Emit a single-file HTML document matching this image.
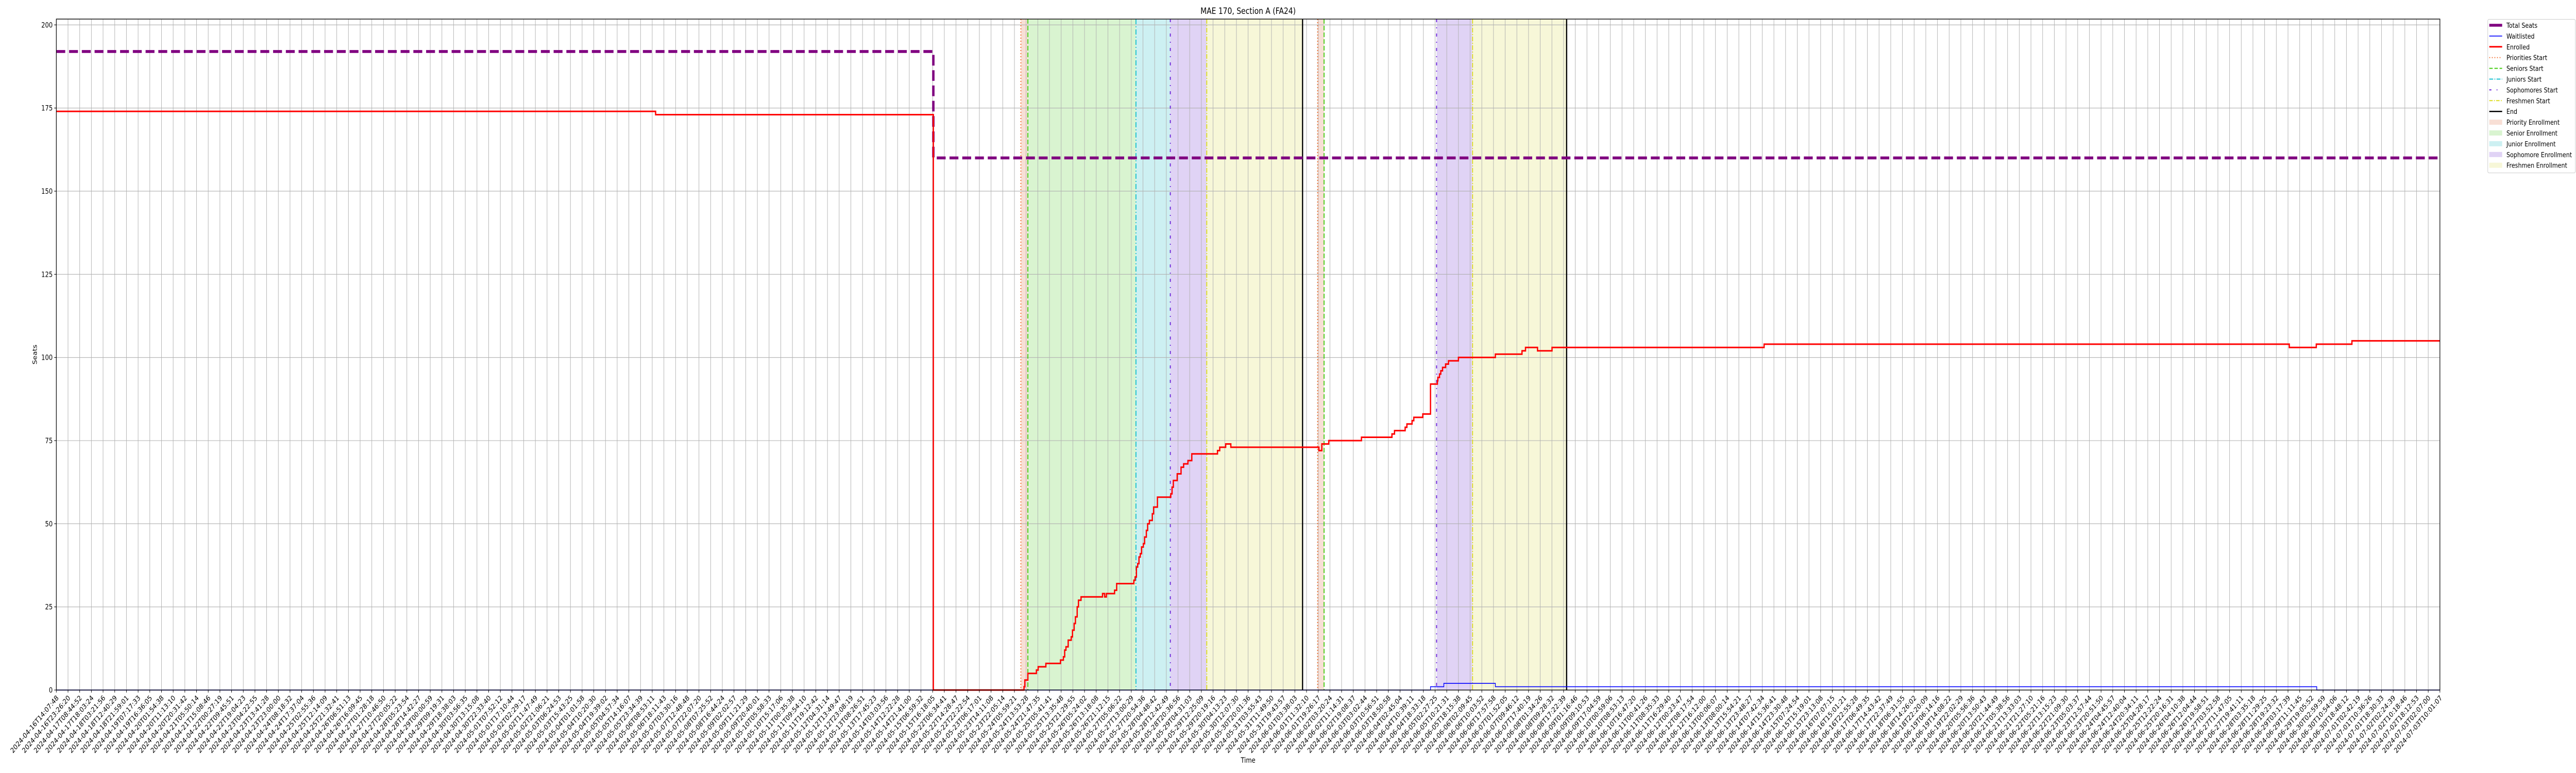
<!DOCTYPE html>
<html><head><meta charset="utf-8"><meta name="viewport" content="width=6000, initial-scale=1"><title>MAE 170, Section A (FA24)</title>
<style>html,body{margin:0;padding:0;background:#fff;width:100%;height:100%;overflow:hidden;}svg{display:block;position:fixed;left:0;top:0;width:100vw;height:100vh;font-family:"DejaVu Sans","Liberation Sans",sans-serif;}</style>
</head><body>
<svg id="chart" viewBox="0 0 6000 1500" preserveAspectRatio="none" xmlns="http://www.w3.org/2000/svg">
<rect width="6000" height="1500" fill="#fff"/>
<g id="spans"></g><g id="grid"></g><g id="vlines"></g><g id="series"></g><g id="axes"></g><g id="legend"></g>
</svg>
<script>
// ---- data (x in tick-position units, 0..204) ----
const enrolledT = [0,51.29,75.06,82.82,82.89,83.15,83.88,84.03,84.69,85.94,86.19,86.30,86.41,86.60,86.86,86.97,87.11,87.22,87.37,87.48,87.70,89.54,89.72,89.87,90.57,90.75,92.22,92.33,92.44,92.55,92.66,92.77,92.88,93.03,93.14,93.29,93.40,93.55,93.80,93.91,94.24,95.38,95.49,95.60,95.93,96.26,96.48,96.85,97.18,99.38,99.57,100.08,100.52,108.06,108.31,108.90,111.70,114.31,114.53,115.44,115.59,116.03,116.18,116.95,117.61,118.20,118.24,118.38,118.49,118.64,118.90,119.15,120.00,123.16,125.44,125.74,126.77,128.01,146.16,191.11,193.42,196.47];
const enrolledV = [174,173,0,1,3,5,6,7,8,9,10,12,13,15,16,18,20,22,25,27,28,29,28,29,30,32,33,34,37,38,40,41,43,44,46,48,50,51,53,55,58,59,61,63,65,67,68,69,71,72,73,74,73,72,74,75,76,77,78,79,80,81,82,83,92,93,94,95,96,97,98,99,100,101,102,103,102,103,104,103,104,105];
const waitT = [0,117.61,118.75,123.16,193.46];
const waitV = [0,1,2,1,0];
const seatsT = [0,75.06];
const seatsV = [192,160];
const phaseNames = ["priority","senior","junior","sophomore","freshmen","priority","sophomore","freshmen"];
const phaseStart = [82.55,83.15,92.40,95.34,98.46,107.95,118.13,121.21];
const phaseEnd   = [83.15,92.40,95.34,98.46,106.66,108.50,121.21,129.26];
const lineKinds = ["priorities","seniors","juniors","sophomores","freshmen","end","priorities","seniors","sophomores","freshmen","end"];
const lineT     = [82.55,83.15,92.40,95.34,98.46,106.66,107.95,108.50,118.13,121.21,129.26];
const yTicks = [0,25,50,75,100,125,150,175,200];
const tickAnchorIdx = [0,75,76,204];
const tickAnchorTime = ["2024-04-16T14:07:48","2024-05-15T16:18:05","2024-05-22T06:34:41","2024-07-03T10:01:07"];
const NT = 205;

// ---- scales ----
const L=131.2, R=5683, T=37, B=1339;
const xs = t => L + t*(R-L)/(NT-1);
const ys = v => B - v*(B-48.3)/200;
const NS="http://www.w3.org/2000/svg";
function mk(tag, attrs, parent){const e=document.createElementNS(NS,tag);for(const k in attrs)e.setAttribute(k,attrs[k]);parent.appendChild(e);return e;}
const gSp=document.getElementById('spans'),gGr=document.getElementById('grid'),gVl=document.getElementById('vlines'),gSe=document.getElementById('series'),gAx=document.getElementById('axes'),gLg=document.getElementById('legend');

const shade={priority:"#f8dfd5",senior:"#d9f4d0",junior:"#cdf0f2",sophomore:"#e0d3f5",freshmen:"#f7f7d8"};
for(let i=0;i<phaseStart.length;i++){
  const r=mk('rect',{x:xs(phaseStart[i]),y:T,width:xs(phaseEnd[i])-xs(phaseStart[i]),height:B-T,fill:shade[phaseNames[i]]},gSp);
  
  
}
for(let i=0;i<NT;i++){
  const l=mk('line',{x1:xs(i),x2:xs(i),y1:T,y2:B,stroke:"#b0b0b0","stroke-width":1.1},gGr);
  
  
}
yTicks.forEach(v=>{
  const l=mk('line',{x1:L,x2:R,y1:ys(v),y2:ys(v),stroke:"#b0b0b0","stroke-width":1.1},gGr);
  
  
});
const lstyle={priorities:["#f26b2a","2,4"],seniors:["#44cc11","9,4"],juniors:["#17c0d0","10,4,2,4"],sophomores:["#6a22d9","6,10,2,10"],freshmen:["#dede22","9,3,2,3"],end:["#000",""]};
lineT.forEach((t,i)=>{
  const s=lstyle[lineKinds[i]];
  const l=mk('line',{x1:xs(t),x2:xs(t),y1:T,y2:B,stroke:s[0],"stroke-width":lineKinds[i]=="end"?2.8:2.2},gVl);
  if(s[1])l.setAttribute('stroke-dasharray',s[1]);
  
  
});
function stepPath(ts,vs){let d="M"+xs(ts[0])+","+ys(vs[0]);for(let i=1;i<ts.length;i++){d+=" H"+xs(ts[i])+" V"+ys(vs[i]);}d+=" H"+xs(NT-1);return d;}
const seats=mk('path',{d:stepPath(seatsT,seatsV),fill:"none",stroke:"#800080","stroke-width":5.6,"stroke-dasharray":"20.7,9"},gSe);


const wl=mk('path',{d:stepPath(waitT,waitV),fill:"none",stroke:"#0000ff","stroke-width":1.6},gSe);


const en=mk('path',{d:stepPath(enrolledT,enrolledV),fill:"none",stroke:"#ff0000","stroke-width":3,"stroke-linejoin":"miter"},gSe);


const fr=mk('rect',{x:L,y:T,width:R-L,height:B-T,fill:"none",stroke:"#000","stroke-width":1.4},gAx);


yTicks.forEach(v=>{
  const tk=mk('line',{x1:L-4.9,x2:L,y1:ys(v),y2:ys(v),stroke:"#000","stroke-width":1.1},gAx);
  
  
  const tx=mk('text',{x:L-8.5,y:ys(v)+5,"text-anchor":"end","font-size":13.9,fill:"#000"},gAx);
  tx.textContent=String(v);
  
  
});
function labelFor(i){
  let k=0;while(k<tickAnchorIdx.length-2&&i>tickAnchorIdx[k+1])k++;
  const a=Date.parse(tickAnchorTime[k]+"Z"),b=Date.parse(tickAnchorTime[k+1]+"Z");
  const t=a+(b-a)*(i-tickAnchorIdx[k])/(tickAnchorIdx[k+1]-tickAnchorIdx[k]);
  return new Date(t).toISOString().slice(0,19);
}
for(let i=0;i<NT;i++){
  const x=xs(i);
  const tk=mk('line',{x1:x,x2:x,y1:B,y2:B+4.9,stroke:"#000","stroke-width":1.1},gAx);
  
  
  const tx=mk('text',{transform:`translate(${x-1},${B+9}) rotate(-45)`,x:0,y:10,"text-anchor":"end","font-size":13.9,fill:"#000"},gAx);
  tx.textContent=labelFor(i);
  
  
}
const title=mk('text',{x:(L+R)/2,y:27,"text-anchor":"middle","font-size":16.7,fill:"#000"},gAx);
title.textContent="MAE 170, Section A (FA24)";


const xl=mk('text',{x:(L+R)/2,y:1480,"text-anchor":"middle","font-size":13.9,fill:"#000"},gAx);
xl.textContent="Time";


const yl=mk('text',{transform:`translate(86,${(T+B)/2}) rotate(-90)`,x:0,y:0,"text-anchor":"middle","font-size":13.9,fill:"#000"},gAx);
yl.textContent="Seats";


const lgItems=[["Total Seats","line","#800080",5.6,""],["Waitlisted","line","#0000ff",1.6,""],["Enrolled","line","#ff0000",3,""],["Priorities Start","line","#f26b2a",2,"2,4"],["Seniors Start","line","#44cc11",2,"8,4"],["Juniors Start","line","#17c0d0",2,"9,3,2,3"],["Sophomores Start","line","#6a22d9",2,"5,12,2,12"],["Freshmen Start","line","#dede22",2,"8,3,2,3"],["End","line","#000",2.5,""],["Priority Enrollment","patch","#f8dfd5"],["Senior Enrollment","patch","#d9f4d0"],["Junior Enrollment","patch","#cdf0f2"],["Sophomore Enrollment","patch","#e0d3f5"],["Freshmen Enrollment","patch","#f7f7d8"]];
const lb=mk('rect',{x:5794.5,y:37.5,width:204,height:298,rx:3,fill:"#fff","fill-opacity":0.8,stroke:"#cccccc","stroke-width":1.1},gLg);


lgItems.forEach((it,i)=>{
  const y=49+i*20.9;
  const g=mk('g',{},gLg);
  
  
  if(it[1]=="line"){
    const l=mk('line',{x1:5798,x2:5828,y1:y,y2:y,stroke:it[2],"stroke-width":it[3]},g);
    if(it[4])l.setAttribute('stroke-dasharray',it[4]);
  } else {
    mk('rect',{x:5798,y:y-5,width:30,height:10,fill:it[2]},g);
  }
  const tx=mk('text',{x:5838,y:y+5,"font-size":13.3,fill:"#000"},g);
  tx.textContent=it[0];
});
</script>
</body></html>
